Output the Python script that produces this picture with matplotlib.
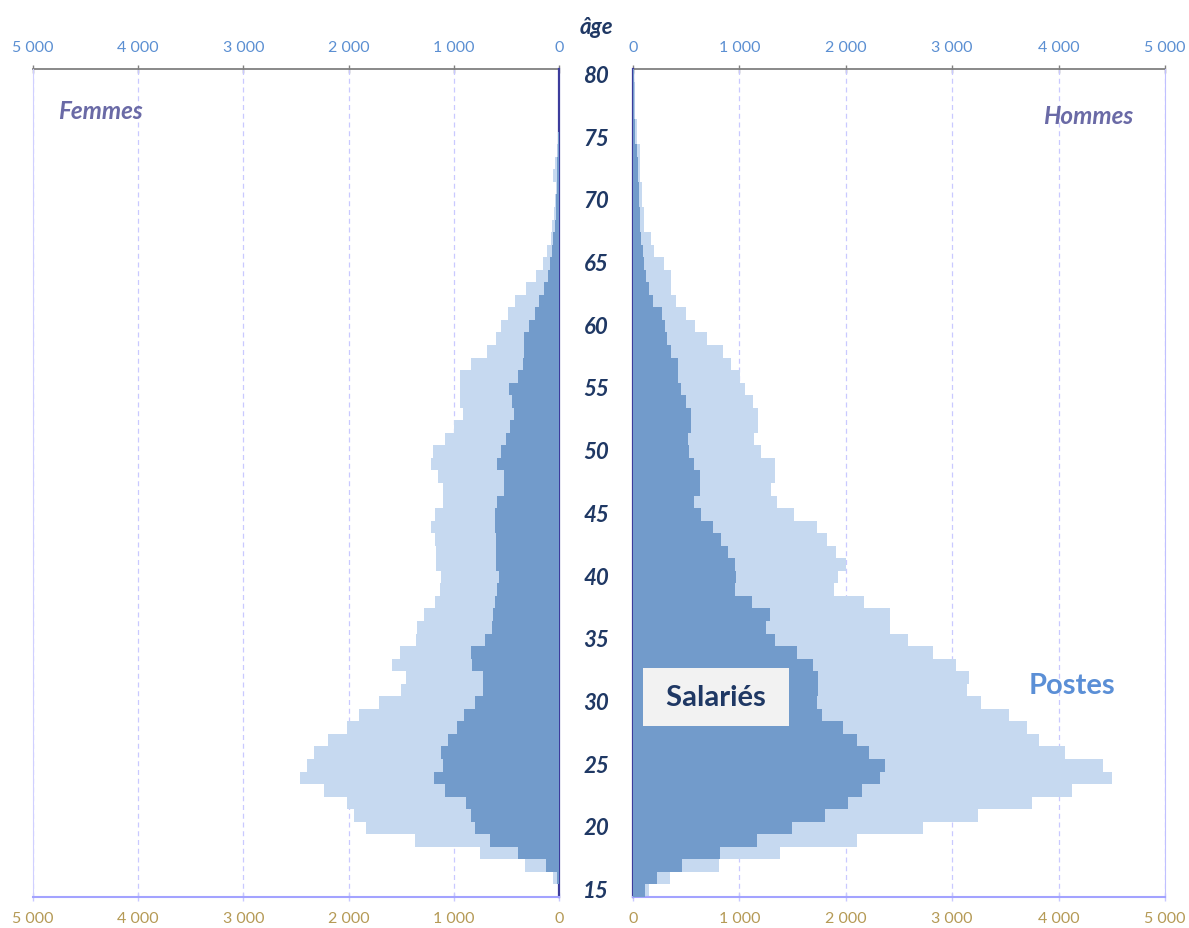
import matplotlib
matplotlib.use("Agg")
import matplotlib.pyplot as plt
from matplotlib.ticker import FuncFormatter
from matplotlib.transforms import blended_transform_factory

plt.rcParams['font.family'] = ['Lato', 'DejaVu Sans']

# ages 15..80
ages = list(range(15, 81))

# Femmes (left)
f_postes = [5, 57, 320, 754, 1365, 1830, 1947, 2011, 2232, 2464,
            2394, 2327, 2194, 2011, 1900, 1713, 1498, 1450, 1583, 1514,
            1362, 1349, 1282, 1181, 1134, 1124, 1165, 1172, 1181, 1219,
            1181, 1102, 1102, 1149, 1217, 1201, 1084, 995, 909, 941,
            941, 941, 837, 688, 602, 551, 488, 418, 317, 222,
            155, 117, 76, 63, 48, 35, 29, 54, 41, 22,
            10, 5, 3, 2, 1, 1]
f_salaries = [3, 19, 120, 389, 652, 801, 833, 887, 1086, 1187,
              1102, 1118, 1054, 969, 902, 801, 722, 722, 823, 833,
              700, 636, 627, 605, 589, 573, 602, 595, 595, 605,
              605, 589, 526, 526, 586, 554, 507, 466, 425, 450,
              472, 387, 345, 330, 330, 282, 228, 187, 139, 108,
              86, 67, 54, 38, 29, 25, 20, 20, 15, 10,
              5, 3, 2, 1, 1, 0]

# Hommes (right)
h_postes = [148, 346, 806, 1378, 2102, 2728, 3240, 3746, 4124, 4502,
            4417, 4057, 3813, 3700, 3534, 3269, 3141, 3155, 3039, 2823,
            2580, 2417, 2417, 2173, 1890, 1926, 2004, 1908, 1823, 1728,
            1512, 1350, 1300, 1332, 1337, 1203, 1140, 1171, 1171, 1124,
            1057, 1004, 924, 843, 696, 580, 500, 400, 353, 353,
            288, 200, 172, 100, 100, 85, 85, 69, 69, 69,
            38, 38, 20, 18, 15, 10]
h_salaries = [113, 230, 459, 820, 1166, 1498, 1809, 2021, 2152, 2318,
              2367, 2219, 2106, 1975, 1777, 1728, 1742, 1742, 1696, 1544,
              1332, 1254, 1283, 1120, 954, 968, 954, 890, 823, 756,
              643, 576, 625, 625, 576, 529, 517, 548, 548, 501,
              451, 420, 420, 353, 321, 305, 273, 187, 147, 125,
              100, 94, 75, 63, 63, 53, 53, 44, 44, 40,
              22, 22, 12, 10, 8, 5]

x_ticks = [0, 1000, 2000, 3000, 4000, 5000]
age_ticks = [15, 20, 25, 30, 35, 40, 45, 50, 55, 60, 65, 70, 75, 80]

light = '#c6d9f0'
dark = '#729bcb'
navy = '#1f3864'
top_col = '#5b8fd2'
bot_col = '#b59a55'
grid_col = '#c9c9ff'

fmt = FuncFormatter(lambda v, p: f"{int(v):,}".replace(",", " "))

fig = plt.figure(figsize=(11.89, 9.29), dpi=100)
axL = fig.add_axes([33 / 1189, 31 / 929, 526 / 1189, 828 / 929])
axR = fig.add_axes([633 / 1189, 31 / 929, 532 / 1189, 828 / 929])

for ax, postes, sal in [(axL, f_postes, f_salaries), (axR, h_postes, h_salaries)]:
    ax.barh(ages, postes, height=1.0, color=light, linewidth=0, zorder=2)
    ax.barh(ages, sal, height=1.0, color=dark, linewidth=0, zorder=3)
    ax.set_ylim(14.5, 80.5)
    ax.set_yticks([])
    ax.set_xticks(x_ticks)
    ax.xaxis.set_major_formatter(fmt)
    ax.grid(axis='x', color=grid_col, linestyle=(0, (4, 3)), linewidth=0.9, zorder=1)
    ax.set_axisbelow(True)
    ax.tick_params(axis='x', direction='inout', length=6, width=1,
                   color=grid_col, labelcolor=bot_col, labelsize=11.5, pad=7)
    ax.spines['bottom'].set_color('#a3a3ff')
    ax.spines['bottom'].set_linewidth(1.5)
    ax.spines['top'].set_visible(False)
    sec = ax.secondary_xaxis('top')
    sec.set_xticks(x_ticks)
    sec.xaxis.set_major_formatter(fmt)
    sec.tick_params(axis='x', direction='inout', length=6, width=1,
                    color='#808080', labelcolor=top_col, labelsize=11.5, pad=8)
    sec.spines['top'].set_color('#808080')
    sec.spines['top'].set_linewidth(1.3)

axL.set_xlim(5000, 0)
axR.set_xlim(0, 5000)
axL.spines['right'].set_color('#3c3c9c')
axL.spines['right'].set_linewidth(1.6)
axL.spines['left'].set_color('#d0d0ff')
axR.spines['left'].set_color('#3c3c9c')
axR.spines['left'].set_linewidth(1.6)
axR.spines['right'].set_color('#c0c0ff')

# age labels in the centre
tr = blended_transform_factory(fig.transFigure, axL.transData)
for a in age_ticks:
    fig.text(596 / 1189, a, str(a), transform=tr, ha='center', va='center',
             fontsize=16, fontweight='bold', fontstyle='italic', color=navy)
fig.text(596 / 1189, 1 - 27 / 929, 'âge', ha='center', va='center',
         fontsize=16, fontweight='bold', fontstyle='italic', color=navy)

axL.text(4363, 77.2, 'Femmes', ha='center', va='center', fontsize=17.5,
         fontweight='bold', fontstyle='italic', color='#6a6aa6')
axR.text(4276, 76.8, 'Hommes', ha='center', va='center', fontsize=17.5,
         fontweight='bold', fontstyle='italic', color='#6a6aa6')

axR.text(780, 30.45, ' Salariés ', ha='center', va='center', fontsize=21,
         fontweight='bold', color=navy, zorder=5,
         bbox=dict(boxstyle='square,pad=0.55', facecolor='#f2f2f2', edgecolor='none'))
axR.text(4126, 31.4, 'Postes', ha='center', va='center', fontsize=21,
         fontweight='bold', color='#5b8fd6', zorder=5)

fig.savefig('out.png', dpi=100)
